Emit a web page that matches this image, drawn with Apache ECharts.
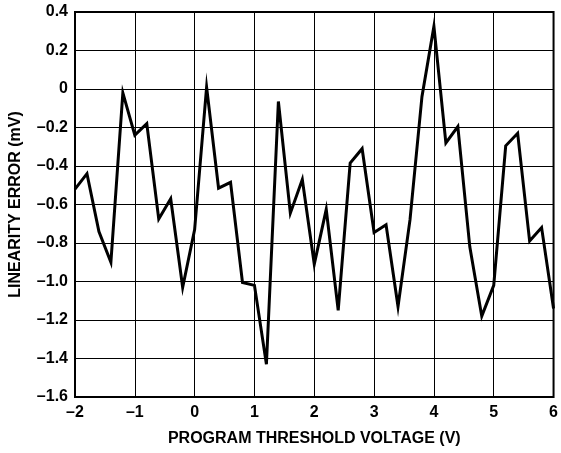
<!DOCTYPE html>
<html>
<head>
<meta charset="utf-8">
<script src="https://cdn.jsdelivr.net/npm/echarts@6/dist/echarts.min.js"></script>
<style>
html,body{margin:0;padding:0;background:#fff;}
#chart{width:561px;height:453px;}
</style>
</head>
<body>
<div id="chart"></div>
<script>
// Program threshold voltage (V), 0.2 V steps
var voltages = [-2.0,-1.8,-1.6,-1.4,-1.2,-1.0,-0.8,-0.6,-0.4,-0.2,0.0,0.2,0.4,0.6,0.8,1.0,1.2,1.4,1.6,1.8,2.0,2.2,2.4,2.6,2.8,3.0,3.2,3.4,3.6,3.8,4.0,4.2,4.4,4.6,4.8,5.0,5.2,5.4,5.6,5.8,6.0];
// Linearity error (mV)
var linearityError = [-0.52,-0.44,-0.74,-0.90,-0.02,-0.24,-0.18,-0.675,-0.57,-1.03,-0.73,0.01,-0.515,-0.485,-1.005,-1.02,-1.43,-0.065,-0.645,-0.47,-0.91,-0.625,-1.15,-0.385,-0.31,-0.745,-0.705,-1.13,-0.68,-0.04,0.325,-0.28,-0.195,-0.82,-1.18,-1.02,-0.295,-0.23,-0.79,-0.72,-1.14];
var xTitle = 'PROGRAM THRESHOLD VOLTAGE (V)';
var yTitle = 'LINEARITY ERROR (mV)';

var data = voltages.map(function(v, i){ return [v, linearityError[i]]; });
function dash(s){ return s.replace('-', '\u2013'); }

var chart = echarts.init(document.getElementById('chart'), null, {renderer:'canvas'});
var font = 'Liberation Sans, Arial, Helvetica, sans-serif';
chart.setOption({
  animation:false,
  backgroundColor:'#fff',
  grid:{left:74, right:7, top:12, bottom:56, show:true, borderColor:'#000', borderWidth:2},
  xAxis:{
    type:'value', min:-2, max:6, interval:1,
    name:xTitle, nameLocation:'middle', nameGap:34,
    nameTextStyle:{fontFamily:font, fontWeight:'bold', fontSize:16, color:'#000'},
    axisLine:{show:false},
    axisTick:{show:false},
    axisLabel:{margin:8, fontFamily:font, fontWeight:'bold', fontSize:16, color:'#000',
      formatter:function(v){ return dash(String(v)); }},
    splitLine:{show:true, lineStyle:{color:'#000', width:1}}
  },
  yAxis:{
    type:'value', min:-1.6, max:0.4, interval:0.2,
    name:yTitle, nameLocation:'middle', nameGap:51, nameRotate:90,
    nameTextStyle:{fontFamily:font, fontWeight:'bold', fontSize:16, color:'#000'},
    axisLine:{show:false},
    axisTick:{show:false},
    axisLabel:{margin:7, fontFamily:font, fontWeight:'bold', fontSize:16, color:'#000',
      formatter:function(v){ if (Math.abs(v) < 1e-9) return '0'; return dash(v.toFixed(1)); }},
    splitLine:{show:true, lineStyle:{color:'#000', width:1}}
  },
  series:[{
    type:'line', data:data, showSymbol:false, symbol:'none',
    lineStyle:{color:'#000', width:3, join:'miter'},
    silent:true
  }]
});
</script>
</body>
</html>
